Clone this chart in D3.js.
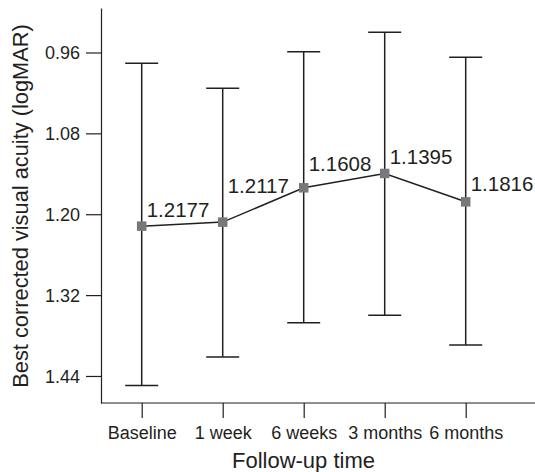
<!DOCTYPE html>
<html>
<head>
<meta charset="utf-8">
<script src="https://cdn.jsdelivr.net/npm/d3@7"></script>
<style>
  body { margin: 0; background: #fff; }
  text { font-family: "Liberation Sans", Arial, Helvetica, sans-serif; fill: #231f20; }
</style>
</head>
<body>
<div id="chart"></div>
<script>
// Follow-up time points
const times = ["Baseline", "1 week", "6 weeks", "3 months", "6 months"];
// Mean BCVA (logMAR)
const means = [1.2177, 1.2117, 1.1608, 1.1395, 1.1816];
// Error bar ends
const upper = [0.976, 1.013, 0.959, 0.930, 0.967];
const lower = [1.454, 1.412, 1.361, 1.350, 1.394];
// where each value label sits (logMAR units)
const labelAt = [1.2045, 1.168, 1.1355, 1.125, 1.165];
const yTicks = [0.96, 1.08, 1.20, 1.32, 1.44];

var width = 535, height = 472;
var margin = { top: 8, right: 0, bottom: 69, left: 101 };

var svg = d3.select("#chart")
    .append("svg")
    .attr("width", width)
    .attr("height", height);

// Scales
var x = d3.scalePoint()
    .domain(times)
    .range([141.7, 465.7]);

var y = d3.scaleLinear()
    .domain([0.894, 1.4801])
    .range([margin.top, height - margin.bottom]);

var ink = "#231f20";

// Y axis
var yAxis = svg.append("g")
    .attr("transform", "translate(" + margin.left + ",0)")
    .call(d3.axisLeft(y).tickValues(yTicks).tickFormat(d3.format(".2f")).tickSize(15).tickSizeOuter(0).tickPadding(6));
yAxis.selectAll("text").style("font-size", "18px").attr("dy", "0.35em");

// X axis
var xAxis = svg.append("g")
    .attr("transform", "translate(0," + (height - margin.bottom) + ")")
    .call(d3.axisBottom(x).tickSize(15).tickSizeOuter(0).tickPadding(8));
xAxis.selectAll("text").style("font-size", "18px");
xAxis.select(".domain").attr("d", "M" + margin.left + ",0H" + width);

svg.selectAll(".domain, .tick line")
    .attr("stroke", ink)
    .attr("stroke-width", 1.2);

// Axis titles
svg.append("text")
    .attr("transform", "rotate(-90)")
    .attr("x", -206)
    .attr("y", 28)
    .attr("text-anchor", "middle")
    .style("font-size", "21.8px")
    .text("Best corrected visual acuity (logMAR)");

svg.append("text")
    .attr("x", 303.5)
    .attr("y", 468)
    .attr("text-anchor", "middle")
    .style("font-size", "22px")
    .text("Follow-up time");

// Error bars
var bars = svg.append("g");
var capHalf = 16.5;
bars.selectAll("line.stem")
    .data(times)
    .enter()
    .append("line")
    .attr("x1", d => x(d))
    .attr("x2", d => x(d))
    .attr("y1", (d, i) => y(upper[i]))
    .attr("y2", (d, i) => y(lower[i]))
    .attr("stroke", ink)
    .attr("stroke-width", 1.5);

[upper, lower].forEach(ends => {
    bars.selectAll(null)
        .data(times)
        .enter()
        .append("line")
        .attr("x1", d => x(d) - capHalf)
        .attr("x2", d => x(d) + capHalf)
        .attr("y1", (d, i) => y(ends[i]))
        .attr("y2", (d, i) => y(ends[i]))
        .attr("stroke", ink)
        .attr("stroke-width", 1.5);
});

// Mean line
var line = d3.line()
    .x((d, i) => x(times[i]))
    .y(d => y(d));

svg.append("path")
    .datum(means)
    .attr("fill", "none")
    .attr("stroke", ink)
    .attr("stroke-width", 1.5)
    .attr("d", line);

// Markers
var s = 9.5;
svg.append("g")
    .selectAll("rect")
    .data(means)
    .enter()
    .append("rect")
    .attr("x", (d, i) => x(times[i]) - s / 2)
    .attr("y", d => y(d) - s / 2)
    .attr("width", s)
    .attr("height", s)
    .attr("fill", "#77787b");

// Value labels
svg.append("g")
    .selectAll("text")
    .data(means)
    .enter()
    .append("text")
    .attr("x", (d, i) => x(times[i]) + 5)
    .attr("y", (d, i) => y(labelAt[i]))
    .style("font-size", "20.5px")
    .text(d => d.toFixed(4));
</script>
</body>
</html>
